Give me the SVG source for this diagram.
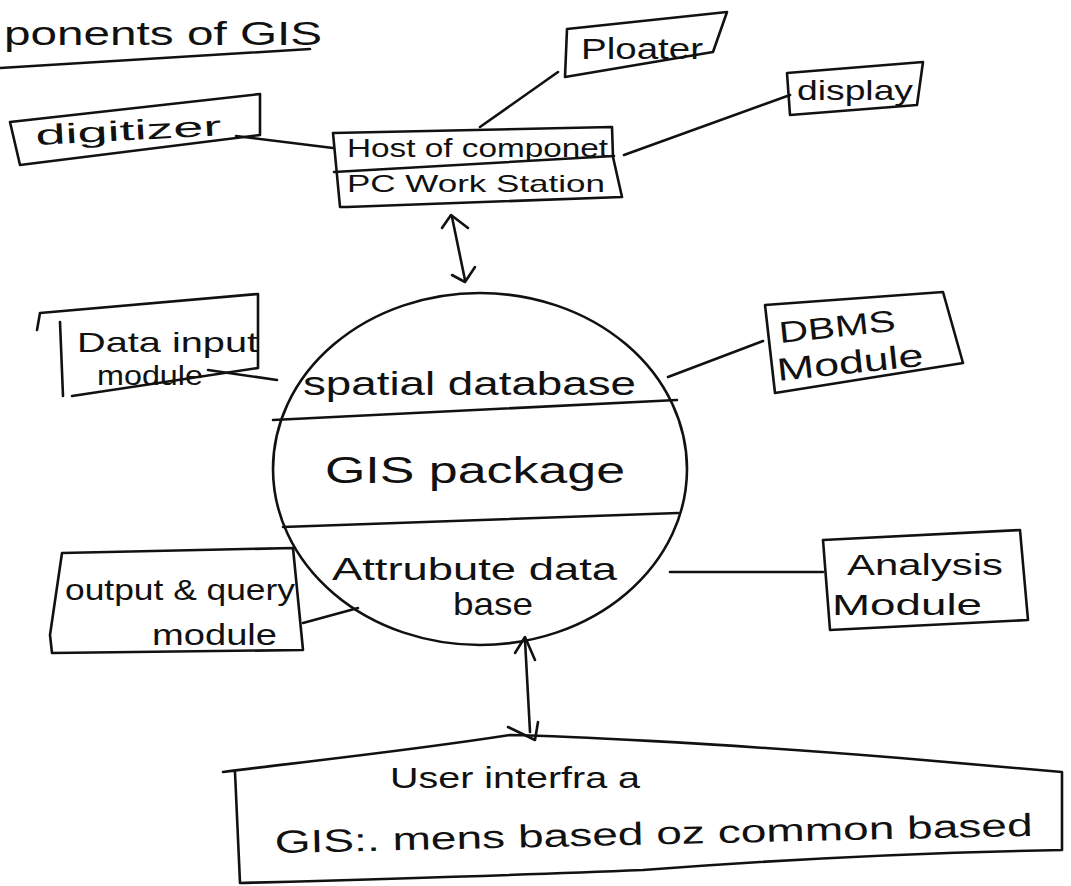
<svg xmlns="http://www.w3.org/2000/svg" width="1071" height="886" viewBox="0 0 1071 886">
<style>
.ln{fill:none;stroke:#111;stroke-width:2.6;stroke-linecap:round;stroke-linejoin:round}
.t{font-family:"Liberation Sans",Arial,sans-serif;fill:#111}
</style>
<rect width="1071" height="886" fill="#fff"/>
<g id="title">
<text class="t" x="4" y="45" font-size="34" textLength="318" lengthAdjust="spacingAndGlyphs">ponents of  GIS</text>
<path class="ln" d="M0,68 L310,49"/>
</g>
<g id="plotter">
<path class="ln" d="M567,29 L727,12 L713,52 L565,77 Z"/>
<text class="t" x="581" y="59" font-size="30" textLength="122" lengthAdjust="spacingAndGlyphs">Ploater</text>
</g>
<g id="display">
<path class="ln" d="M787,73 L923,62 L917,105 L790,115 Z"/>
<text class="t" x="797" y="100" font-size="28" textLength="116" lengthAdjust="spacingAndGlyphs">display</text>
</g>
<g id="digitizer">
<path class="ln" d="M10,122 L260,94 L260,135 L20,165 Z"/>
<text class="t" x="36" y="145" font-size="28" textLength="186" lengthAdjust="spacingAndGlyphs" transform="rotate(-3 36 145)">digitizer</text>
</g>
<g id="host">
<path class="ln" d="M333,133 L612,127 L613,157 L622,197 L347,207 L340,207 Z"/>
<path class="ln" d="M334,172 L614,156"/>
<text class="t" x="347" y="157" font-size="26" textLength="261" lengthAdjust="spacingAndGlyphs">Host of componet</text>
<text class="t" x="347" y="192" font-size="24" textLength="258" lengthAdjust="spacingAndGlyphs">PC Work Station</text>
</g>
<g id="gis-package">
<ellipse class="ln" cx="480" cy="469" rx="207" ry="176"/>
<path class="ln" d="M273,420 L677,400"/>
<path class="ln" d="M283,527 L678,513"/>
<text class="t" x="303" y="395" font-size="34" textLength="333" lengthAdjust="spacingAndGlyphs">spatial database</text>
<text class="t" x="325" y="483" font-size="36" textLength="300" lengthAdjust="spacingAndGlyphs">GIS  package</text>
<text class="t" x="332" y="580" font-size="32" textLength="285" lengthAdjust="spacingAndGlyphs">Attrubute data</text>
<text class="t" x="453" y="615" font-size="32" textLength="80" lengthAdjust="spacingAndGlyphs">base</text>
</g>
<g id="data-input">
<path class="ln" d="M37,330 L40,313 L258,294 L258,368 L72,396"/>
<path class="ln" d="M60,322 L63,396"/>
<text class="t" x="77" y="352" font-size="28" textLength="181" lengthAdjust="spacingAndGlyphs">Data input</text>
<text class="t" x="97" y="385" font-size="28" textLength="106" lengthAdjust="spacingAndGlyphs">module</text>
</g>
<g id="dbms">
<path class="ln" d="M765,305 L943,292 L963,363 L775,393 Z"/>
<text class="t" x="780" y="343" font-size="30" textLength="117" lengthAdjust="spacingAndGlyphs" transform="rotate(-6 780 343)">DBMS</text>
<text class="t" x="778" y="381" font-size="32" textLength="147" lengthAdjust="spacingAndGlyphs" transform="rotate(-6 778 381)">Module</text>
</g>
<g id="output-query">
<path class="ln" d="M62,553 L293,548 L303,650 L52,653 L50,635 Z"/>
<text class="t" x="65" y="600" font-size="30" textLength="230" lengthAdjust="spacingAndGlyphs">output &amp; query</text>
<text class="t" x="152" y="645" font-size="30" textLength="125" lengthAdjust="spacingAndGlyphs">module</text>
</g>
<g id="analysis">
<path class="ln" d="M823,540 L1020,530 L1028,620 L830,630 Z"/>
<text class="t" x="847" y="575" font-size="30" textLength="156" lengthAdjust="spacingAndGlyphs">Analysis</text>
<text class="t" x="832" y="615" font-size="30" textLength="150" lengthAdjust="spacingAndGlyphs">Module</text>
</g>
<g id="user-interface">
<path class="ln" d="M223,772 C300,762 400,752 510,735 C560,736 700,742 900,758 L1062,772 L1062,850 C950,852 800,858 643,870 C500,876 350,880 240,883 L235,772"/>
<text class="t" x="390" y="788" font-size="30" textLength="250" lengthAdjust="spacingAndGlyphs">User interfra a</text>
<text class="t" x="275" y="853" font-size="32" textLength="758" lengthAdjust="spacingAndGlyphs" transform="rotate(-1.3 275 853)">GIS:. mens based oz common based</text>
</g>
<g id="connectors">
<path class="ln" d="M480,127 L558,72"/>
<path class="ln" d="M624,155 L790,95"/>
<path class="ln" d="M236,136 L333,148"/>
<path class="ln" d="M452,217 L465,280"/>
<path class="ln" d="M442,228 L451,215 L468,228"/>
<path class="ln" d="M452,275 L465,282 L475,267"/>
<path class="ln" d="M208,370 L277,380"/>
<path class="ln" d="M668,377 L763,341"/>
<path class="ln" d="M303,623 L358,608"/>
<path class="ln" d="M670,572 L823,572"/>
<path class="ln" d="M525,640 L530,732"/>
<path class="ln" d="M515,653 L525,637 L535,660"/>
<path class="ln" d="M508,727 L535,740 L538,722"/>
</g>
</svg>
